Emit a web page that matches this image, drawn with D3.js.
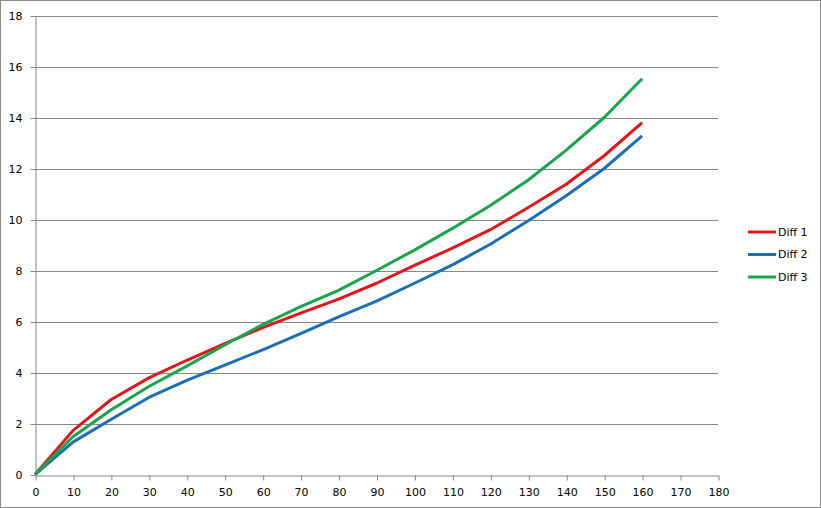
<!DOCTYPE html>
<html><head><meta charset="utf-8">
<script src="https://cdn.jsdelivr.net/npm/d3@7"></script>
<style>body{margin:0;background:#fff}svg{display:block}</style>
</head><body>
<script>
const xValues = [0,10,20,30,40,50,60,70,80,90,100,110,120,130,140,150,160];
const diff1 = [0,1.72,2.93,3.79,4.48,5.13,5.76,6.33,6.88,7.5,8.2,8.88,9.6,10.47,11.38,12.5,13.8];
const diff2 = [0,1.27,2.16,3.02,3.69,4.29,4.89,5.52,6.18,6.8,7.5,8.22,9.03,9.95,10.93,12.0,13.28];
const diff3 = [0,1.48,2.53,3.45,4.25,5.08,5.88,6.58,7.22,8.0,8.8,9.65,10.55,11.55,12.72,14.0,15.52];
const seriesNames = ["Diff 1","Diff 2","Diff 3"];
const seriesColors = ["#e3161b","#1c6fb6","#1aa54b"];
const xTicks = d3.range(0,181,10);
const yTicks = d3.range(0,19,2);

const W=821,H=508;
const svg=d3.select("body").append("svg").attr("width",W).attr("height",H);
svg.append("rect").attr("x",0.5).attr("y",0.5).attr("width",W-1).attr("height",H-1)
  .attr("fill","#fff").attr("stroke","#8c8c8c");

const x=d3.scaleLinear().domain([0,180]).range([35,718]);
const y=d3.scaleLinear().domain([0,18]).range([474.5,15.5]);
const font="DejaVu Sans, Verdana, sans-serif";

// gridlines
svg.append("g").selectAll("line").data(yTicks.filter(d=>d>0)).join("line")
  .attr("x1",x(0)).attr("x2",x(180))
  .attr("y1",d=>Math.round(y(d))+0.5).attr("y2",d=>Math.round(y(d))+0.5)
  .attr("stroke","#868686").attr("stroke-width",1);

// y axis
const yAxis=svg.append("g").attr("transform",`translate(${x(0)+0.5},0.5)`)
  .call(d3.axisLeft(y).tickValues(yTicks).tickSize(5).tickSizeOuter(0).tickPadding(8));
// x axis
const xAxis=svg.append("g").attr("transform",`translate(0.5,${Math.round(y(0))+0.5})`)
  .call(d3.axisBottom(x).tickValues(xTicks).tickSize(5).tickSizeOuter(0).tickPadding(8));
[yAxis,xAxis].forEach(a=>{
  a.select(".domain").attr("stroke","#868686");
  a.selectAll(".tick line").attr("stroke","#868686");
  a.selectAll(".tick text").attr("fill","#000").style("font-family",font).style("font-size","11px");
});

const line=d3.line().x((d,i)=>x(xValues[i])).y(d=>y(d));
[diff1,diff2,diff3].forEach((s,k)=>{
  svg.append("path").datum(s).attr("d",line).attr("fill","none")
    .attr("stroke",seriesColors[k]).attr("stroke-width",3).attr("stroke-linejoin","round");
});

// legend
const lg=svg.append("g");
seriesNames.forEach((n,k)=>{
  const yy=232+k*22.5;
  lg.append("line").attr("x1",748).attr("x2",776).attr("y1",yy).attr("y2",yy)
    .attr("stroke",seriesColors[k]).attr("stroke-width",3);
  lg.append("text").attr("x",778).attr("y",yy).attr("dy","0.35em")
    .style("font-family",font).style("font-size","11px").text(n);
});
</script>
</body></html>
